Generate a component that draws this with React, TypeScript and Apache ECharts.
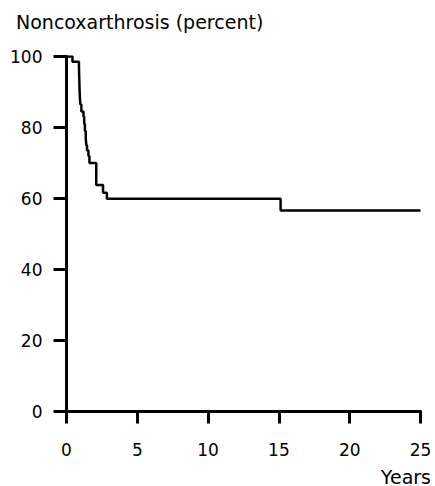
import React, { useEffect, useRef } from "react";
import * as echarts from "echarts";

const years = [0, 0.42, 0.88, 0.9, 0.92, 0.95, 0.98, 1.05, 1.2, 1.25, 1.3, 1.36, 1.4, 1.45, 1.55, 1.62, 2.1, 2.58, 2.85, 15.12, 25];
const percent = [100, 98.5, 97, 94, 91, 88, 86.5, 84.5, 83, 81, 79, 77, 75, 73.5, 72, 70, 63.8, 61.6, 59.9, 56.6, 56.6];
const xTicks = [0, 5, 10, 15, 20, 25];
const yTicks = [0, 20, 40, 60, 80, 100];

const FONT = "DejaVu Sans";

export default function App() {
  const ref = useRef<HTMLDivElement>(null);
  useEffect(() => {
    const chart = echarts.init(ref.current!, null, { renderer: "svg" });
    chart.setOption({
      animation: false,
      backgroundColor: "#fff",
      grid: { left: 66.5, right: 14.5, top: 56.5, bottom: 74.5 },
      title: {
        text: "Noncoxarthrosis (percent)",
        left: 11,
        top: 7,
        textStyle: { fontFamily: FONT, fontSize: 19, fontWeight: "normal", color: "#000" },
      },
      graphic: [
        {
          type: "text",
          right: 4,
          top: 467,
          style: { text: "Years", font: `19px '${FONT}'`, fill: "#000" },
        },
      ],
      xAxis: {
        type: "value",
        min: xTicks[0],
        max: xTicks[xTicks.length - 1],
        interval: 5,
        axisLine: { show: true, onZero: false, lineStyle: { color: "#000", width: 3 } },
        axisTick: { show: true, length: 12, lineStyle: { color: "#000", width: 3 } },
        axisLabel: { margin: 30, fontFamily: FONT, fontSize: 17, color: "#000" },
        splitLine: { show: false },
      },
      yAxis: {
        type: "value",
        min: yTicks[0],
        max: yTicks[yTicks.length - 1],
        interval: 20,
        axisLine: { show: true, lineStyle: { color: "#000", width: 3 } },
        axisTick: { show: true, length: 13, lineStyle: { color: "#000", width: 3 } },
        axisLabel: { margin: 24, fontFamily: FONT, fontSize: 17, color: "#000" },
        splitLine: { show: false },
      },
      series: [
        {
          type: "line",
          step: "end",
          data: years.map((x, i) => [x, percent[i]]),
          showSymbol: false,
          lineStyle: { color: "#000", width: 2.5 },
        },
      ],
    });
    return () => chart.dispose();
  }, []);
  return <div ref={ref} style={{ position: "fixed", left: 0, top: 0, width: 435, height: 486 }} />;
}
